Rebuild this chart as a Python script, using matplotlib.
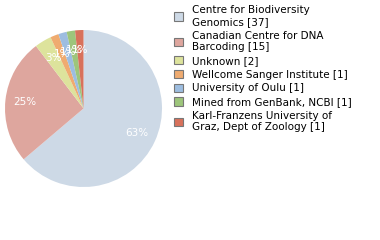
import matplotlib
matplotlib.use('Agg')
import matplotlib.pyplot as plt
from matplotlib.patches import Patch

labels = ['Centre for Biodiversity\nGenomics [37]',
          'Canadian Centre for DNA\nBarcoding [15]',
          'Unknown [2]',
          'Wellcome Sanger Institute [1]',
          'University of Oulu [1]',
          'Mined from GenBank, NCBI [1]',
          'Karl-Franzens University of\nGraz, Dept of Zoology [1]']
counts = [37, 15, 2, 1, 1, 1, 1]
colors = ['#cdd9e6', '#dea69e', '#dde39c', '#efab70', '#9dbde0', '#9dc57b', '#d8715b']

fig = plt.figure(figsize=(3.8, 2.4), dpi=100)
ax = fig.add_axes([5/380, 1 - 187/240, 157/380, 157/240])

def pct(p):
    return '%d%%' % int(p)

wedges, texts, autotexts = ax.pie(counts, colors=colors, startangle=90, counterclock=False,
                                  autopct=pct, pctdistance=0.75,
                                  textprops={'color': 'white', 'fontsize': 7.5})
ax.set_xlim(-1, 1)
ax.set_ylim(-1, 1)
ax.set_aspect('equal')

handles = [Patch(facecolor=c, edgecolor='#777777', linewidth=0.8) for c in colors]
fig.legend(handles, labels, loc='upper left', bbox_to_anchor=(170/380, 1 - 1/240),
           frameon=False, fontsize=7.5, handlelength=0.85, handleheight=0.85,
           handletextpad=0.9, labelspacing=0.36, borderaxespad=0)

fig.savefig('out.png', dpi=100)
